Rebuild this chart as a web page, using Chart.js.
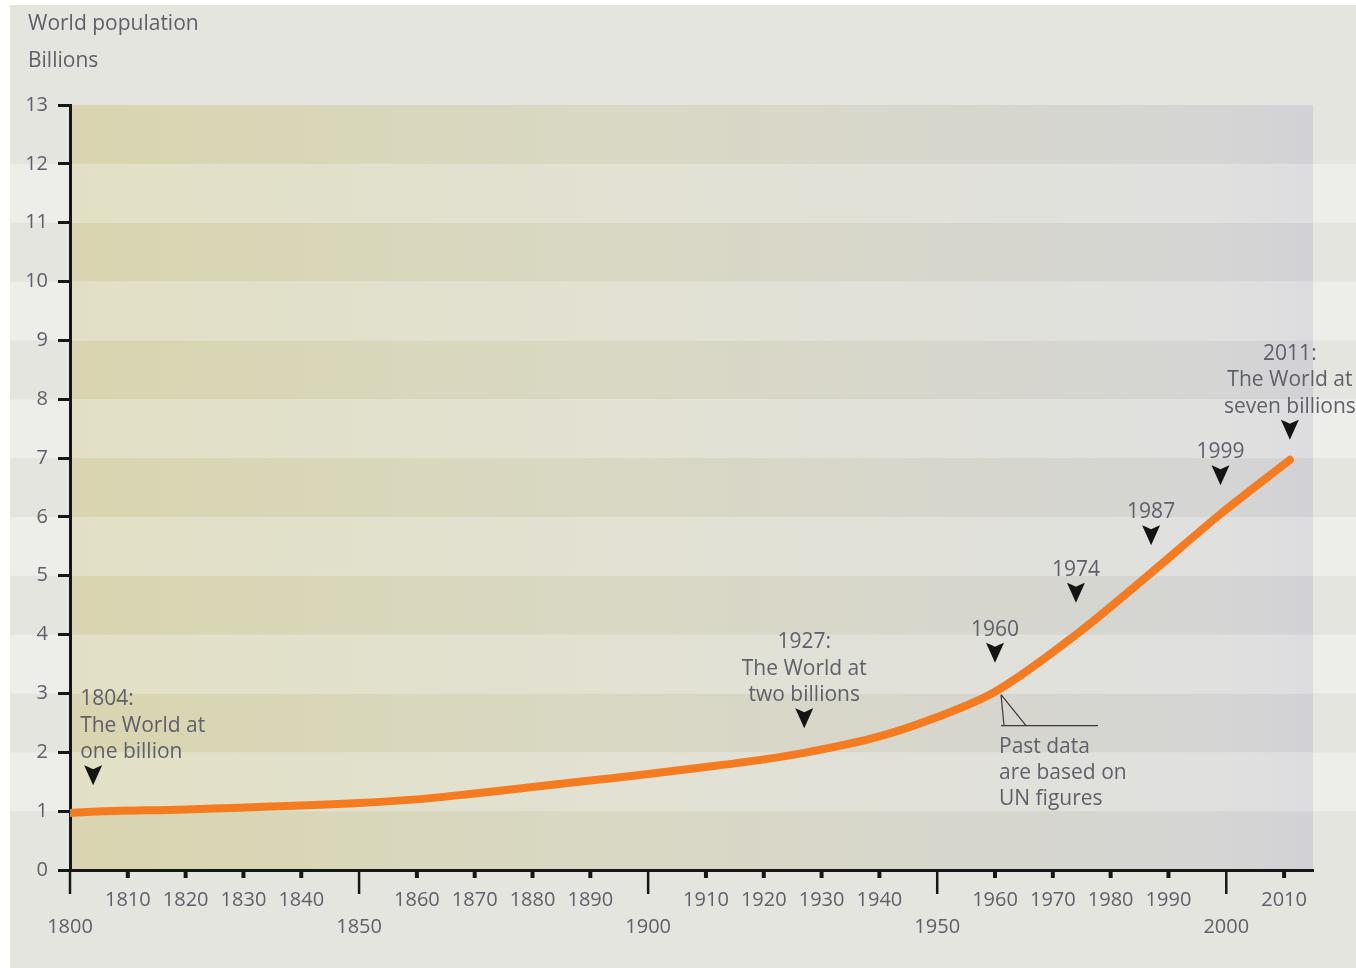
<!DOCTYPE html>
<html>
<head>
<meta charset="utf-8">
<script src="https://cdn.jsdelivr.net/npm/chart.js@4.4.1/dist/chart.umd.min.js"></script>
<style>
    html, body { margin: 0; padding: 0; background: #fff; }
    #graph { display: block; }
</style>
</head>
<body>
<canvas id="graph" width="1356" height="968"></canvas>
<script>
// world population, billions
var years = [1800, 1804, 1820, 1850, 1860, 1870, 1880, 1890, 1900, 1910, 1920, 1927, 1940, 1950, 1960, 1974, 1987, 1999, 2011]
var population = [0.97, 0.99, 1.03, 1.14, 1.2, 1.3, 1.41, 1.52, 1.63, 1.75, 1.88, 1.99, 2.27, 2.6, 3.03, 4.0, 5.05, 6.05, 6.97]

// milestone markers: year, arrow tip height (billions), label lines
var noteYears = [1804, 1927, 1960, 1974, 1987, 1999, 2011]
var noteTips = [1.44, 2.41, 3.52, 4.54, 5.52, 6.54, 7.31]
var noteText = [
    ["1804:", "The World at", "one billion"],
    ["1927:", "The World at", "two billions"],
    ["1960"],
    ["1974"],
    ["1987"],
    ["1999"],
    ["2011:", "The World at", "seven billions"]
]
var sourceNote = ["Past data", "are based on", "UN figures"]

var title = "World population"
var unitLabel = "Billions"

const textColor = "#5e606a"
const axisColor = "#161616"
const font = "Open Sans"

// background: page, stripes and the yellow-to-grey gradient in the plot
const backdrop = {
    id: "backdrop",
    beforeDraw(chart) {
        const ctx = chart.ctx
        const area = chart.chartArea
        const ys = chart.scales.y
        ctx.save()
        ctx.fillStyle = "#ffffff"
        ctx.fillRect(0, 0, chart.width, chart.height)
        ctx.fillStyle = "#e5e5e0"
        ctx.fillRect(10, 5, chart.width - 10, chart.height - 5)

        const dark = ctx.createLinearGradient(area.left, 0, area.right, 0)
        dark.addColorStop(0, "#d9d5b0")
        dark.addColorStop(0.45, "#d9d8c4")
        dark.addColorStop(0.92, "#d5d5d4")
        dark.addColorStop(0.98, "#d3d3d6")
        dark.addColorStop(1, "#d1d1d7")
        const light = ctx.createLinearGradient(area.left, 0, area.right, 0)
        light.addColorStop(0, "#e2e0c4")
        light.addColorStop(0.45, "#e2e1d3")
        light.addColorStop(0.92, "#e0e0df")
        light.addColorStop(0.98, "#dedee0")
        light.addColorStop(1, "#dcdce1")

        for (let i = 0; i < 13; i++) {
            const top = ys.getPixelForValue(i + 1)
            const bottom = ys.getPixelForValue(i)
            const isDark = i % 2 == 0
            // stripes outside the plot
            ctx.fillStyle = isDark ? "#e5e5e0" : "#ededea"
            ctx.fillRect(10, top, area.left - 10, bottom - top)
            ctx.fillRect(area.right, top, chart.width - area.right, bottom - top)
            // stripes inside
            ctx.fillStyle = isDark ? dark : light
            ctx.fillRect(area.left, top, area.right - area.left, bottom - top)
        }
        ctx.restore()
    }
}

// x ticks: long ones every 50 years, short stubs every 10
const xTicks = {
    id: "xTicks",
    afterDraw(chart) {
        const ctx = chart.ctx
        const xs = chart.scales.x
        const base = chart.chartArea.bottom
        ctx.save()
        ctx.strokeStyle = axisColor
        xs.ticks.forEach(t => {
            const x = xs.getPixelForValue(t.value)
            ctx.beginPath()
            if (t.value % 50 == 0) {
                ctx.lineWidth = 2.5
                ctx.moveTo(x, base)
                ctx.lineTo(x, base + 24)
            } else {
                ctx.lineWidth = 4
                ctx.moveTo(x, base)
                ctx.lineTo(x, base + 8)
            }
            ctx.stroke()
        })
        ctx.restore()
    }
}

// arrows, milestone labels, title and source note
const notes = {
    id: "notes",
    afterDraw(chart) {
        const ctx = chart.ctx
        const xs = chart.scales.x
        const ys = chart.scales.y
        ctx.save()
        ctx.font = "21px '" + font + "'"
        ctx.textBaseline = "middle"

        ctx.fillStyle = textColor
        ctx.textAlign = "left"
        ctx.fillText(title, 28, 24)
        ctx.fillText(unitLabel, 28, 61)

        noteYears.forEach((yr, i) => {
            const x = xs.getPixelForValue(yr)
            const tip = ys.getPixelForValue(noteTips[i])
            ctx.fillStyle = "#141414"
            ctx.beginPath()
            ctx.moveTo(x, tip)
            ctx.lineTo(x - 9, tip - 20)
            ctx.quadraticCurveTo(x - 4, tip - 18, x, tip - 16)
            ctx.quadraticCurveTo(x + 4, tip - 18, x + 9, tip - 20)
            ctx.closePath()
            ctx.fill()

            const lines = noteText[i]
            ctx.fillStyle = textColor
            ctx.textAlign = i == 0 ? "left" : "center"
            const tx = i == 0 ? x - 13 : x
            lines.forEach((t, k) => {
                ctx.fillText(t, tx, tip - 33 - (lines.length - 1 - k) * 26.5)
            })
        })

        // callout from the curve at 1960
        const idx = years.indexOf(1960)
        const pt = chart.getDatasetMeta(0).data[idx]
        const ax = pt.x + 6
        const ay = pt.y + 3
        const baseY = ay + 31
        ctx.strokeStyle = "#3a3a3a"
        ctx.lineWidth = 1.2
        ctx.beginPath()
        ctx.moveTo(ax, ay)
        ctx.lineTo(ax + 3, baseY)
        ctx.moveTo(ax, ay)
        ctx.lineTo(ax + 25, baseY)
        ctx.moveTo(ax, baseY)
        ctx.lineTo(ax + 97, baseY)
        ctx.stroke()

        ctx.fillStyle = textColor
        ctx.textAlign = "left"
        sourceNote.forEach((t, k) => {
            ctx.fillText(t, ax - 2, baseY + 21 + k * 26)
        })
        ctx.restore()
    }
}

var points = years.map((y, i) => ({ x: y, y: population[i] }))

var config = {
    type: "line",
    data: {
        datasets: [{
            data: points,
            borderColor: "#f47b20",
            borderWidth: 8,
            borderCapStyle: "round",
            cubicInterpolationMode: "monotone",
            pointRadius: 0,
            fill: false
        }]
    },
    options: {
        responsive: false,
        animation: false,
        events: [],
        layout: { padding: { top: 105, right: 43, left: 0, bottom: 0 } },
        plugins: {
            legend: { display: false },
            tooltip: { enabled: false }
        },
        scales: {
            x: {
                type: "linear",
                min: 1800,
                max: 2015,
                z: 1,
                afterFit: (s) => { s.height = 98 },
                border: { display: true, color: axisColor, width: 3 },
                grid: {
                    display: true,
                    drawOnChartArea: false,
                    drawTicks: true,
                    tickLength: 1,
                    color: "rgba(0,0,0,0)",
                    tickColor: "rgba(0,0,0,0)"
                },
                ticks: {
                    stepSize: 10,
                    includeBounds: false,
                    autoSkip: false,
                    maxRotation: 0,
                    padding: 16,
                    color: textColor,
                    font: { family: font, size: 20, lineHeight: 1.35 },
                    callback: (v) => v % 50 == 0 ? ["", String(v)] : String(v)
                }
            },
            y: {
                min: 0,
                max: 13,
                z: 1,
                afterFit: (s) => { s.width = 70 },
                border: { display: true, color: axisColor, width: 3 },
                grid: {
                    drawOnChartArea: false,
                    drawTicks: true,
                    tickLength: 12,
                    tickWidth: 3,
                    tickColor: axisColor
                },
                ticks: {
                    stepSize: 1,
                    padding: 10,
                    color: textColor,
                    font: { family: font, size: 20 }
                }
            }
        }
    },
    plugins: [backdrop, xTicks, notes]
}

var graph = new Chart(document.getElementById("graph"), config)
</script>
</body>
</html>
